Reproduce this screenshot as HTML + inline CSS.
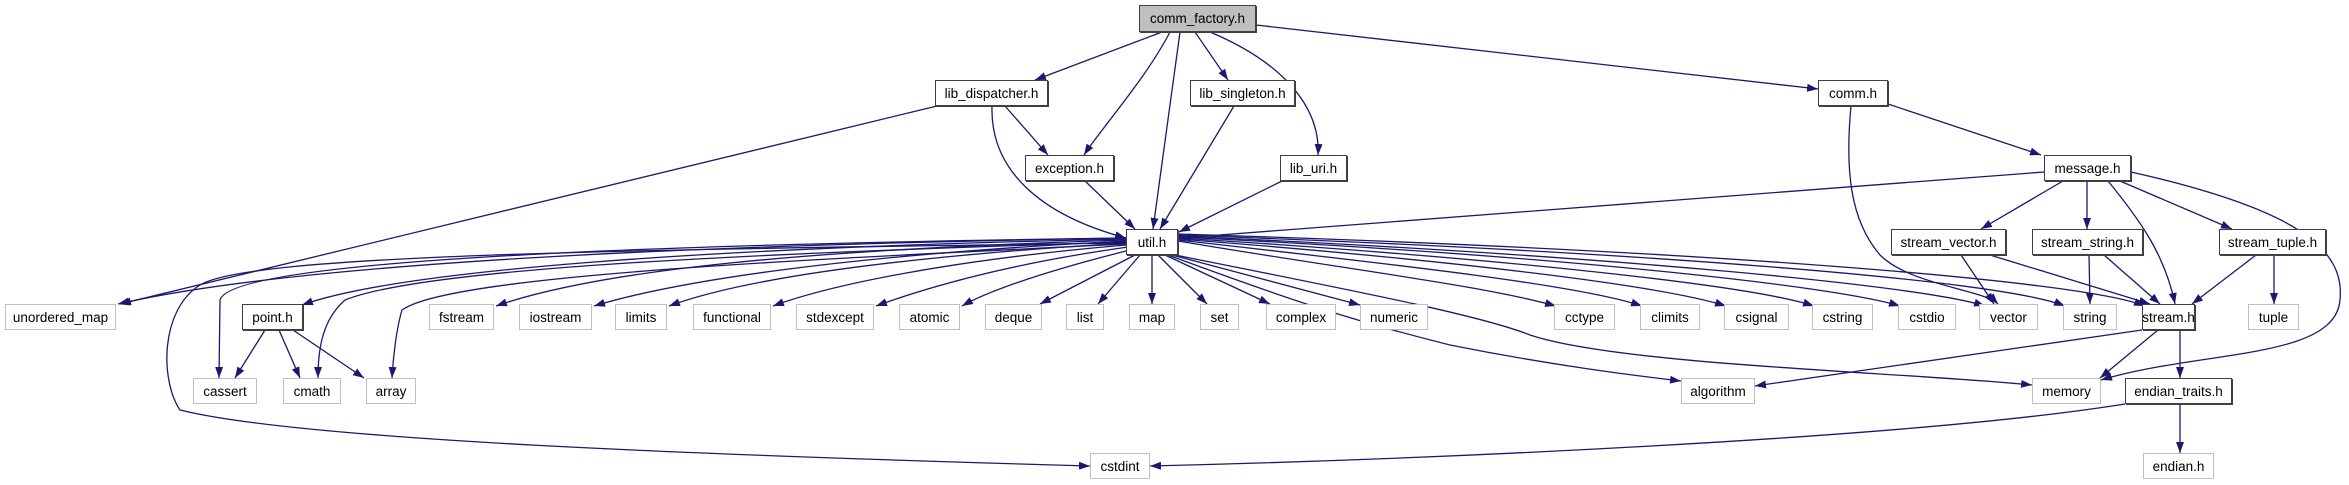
<!DOCTYPE html>
<html><head><meta charset="utf-8"><style>
html,body{margin:0;padding:0;background:#fff;}
#c{position:relative;width:2349px;height:485px;overflow:hidden;}
svg{position:absolute;left:0;top:0;}
.n{position:absolute;box-sizing:border-box;border:1px solid #bfbfbf;background:#fff;font-family:"Liberation Sans",sans-serif;font-size:13.5px;color:#000;display:flex;align-items:center;justify-content:center;white-space:nowrap;}
.b{border:1px solid #404040;box-shadow:1px 1px 0 #404040;}
.g{background:#bfbfbf;}
</style></head><body><div id="c">
<svg width="2349" height="485" viewBox="0 0 2349 485">
<defs><marker id="a" markerWidth="11" markerHeight="8" refX="11" refY="4" orient="auto" markerUnits="userSpaceOnUse"><path d="M0,0 L11,4 L0,8 z" fill="#191970"/></marker></defs>
<g fill="none" stroke="#191970" stroke-width="1.3" marker-end="url(#a)">
<path d="M1162,32 L1035,80"/>
<path d="M1170,32 C1145,80 1100,130 1084,155"/>
<path d="M1180,32 L1153,229"/>
<path d="M1195,32 L1228,80"/>
<path d="M1210,32 C1300,70 1320,120 1318,155"/>
<path d="M1256,25 L1818,89"/>
<path d="M1005,106 L1048,155"/>
<path d="M992,106 C990,170 1040,215 1126,238"/>
<path d="M937,106 L120,304"/>
<path d="M1085,181 L1135,229"/>
<path d="M1234,106 L1160,229"/>
<path d="M1282,181 L1179,232"/>
<path d="M1888,104 L2041,155"/>
<path d="M1851,106 C1845,170 1850,220 1880,255 C1910,285 1985,290 1998,304"/>
<path d="M2044,172 L1180,238"/>
<path d="M2063,181 L1981,229"/>
<path d="M2087,181 L2087,229"/>
<path d="M2108,181 C2140,220 2165,255 2175,304"/>
<path d="M2120,181 L2232,229"/>
<path d="M2131,172 C2300,210 2345,250 2340,300 C2335,360 2200,350 2101,380"/>
<path d="M1961,255 L1994,304"/>
<path d="M1990,255 L2150,304"/>
<path d="M2089,255 L2090,304"/>
<path d="M2104,255 L2160,304"/>
<path d="M2256,255 L2192,304"/>
<path d="M2274,255 L2274,304"/>
<path d="M2142,330 L1755,386"/>
<path d="M2158,330 L2100,378"/>
<path d="M2180,330 L2180,378"/>
<path d="M2180,404 L2180,453"/>
<path d="M2125,404 C1900,440 1400,460 1150,466"/>
<path d="M1126,243 C600,250 250,255 200,285 C160,310 160,380 180,410 C300,440 700,455 1090,466"/>
<path d="M1126,238 C700,245 300,262 118,304"/>
<path d="M1126,239 C700,248 400,270 302,305"/>
<path d="M1126,238 C600,245 230,262 220,300 L219,378"/>
<path d="M1126,242 C700,255 420,270 345,300 C322,320 318,350 318,378"/>
<path d="M1126,244 C800,260 450,275 402,310 C396,330 393,360 392,378"/>
<path d="M1126,240 C800,250 600,270 496,306"/>
<path d="M1126,241 C850,255 680,280 594,306"/>
<path d="M1126,243 C880,258 740,280 669,306"/>
<path d="M1126,245 C950,260 830,285 773,306"/>
<path d="M1128,247 C1000,265 920,290 876,306"/>
<path d="M1130,250 C1050,270 990,290 962,306"/>
<path d="M1135,255 L1040,304"/>
<path d="M1140,255 L1098,304"/>
<path d="M1152,255 L1152,304"/>
<path d="M1158,255 L1207,304"/>
<path d="M1165,255 L1270,304"/>
<path d="M1172,255 L1360,305"/>
<path d="M1178,241 C1350,270 1480,285 1556,306"/>
<path d="M1178,240 C1400,265 1580,285 1642,306"/>
<path d="M1178,239 C1450,260 1660,285 1726,306"/>
<path d="M1178,238 C1500,258 1750,285 1814,306"/>
<path d="M1178,237 C1550,255 1830,285 1900,306"/>
<path d="M1178,236 C1600,255 1920,285 1985,306"/>
<path d="M1178,235 C1650,252 2000,280 2065,306"/>
<path d="M1178,234 C1700,250 2080,280 2145,306"/>
<path d="M1168,255 C1290,300 1350,320 1450,345 C1550,365 1630,375 1681,381"/>
<path d="M1175,255 C1350,290 1480,315 1530,335 C1620,365 1900,372 2032,385"/>
<path d="M265,330 L235,378"/>
<path d="M279,330 L300,378"/>
<path d="M293,330 L364,378"/>
</g>
</svg>
<div class="n b g" style="left:1139px;top:5px;width:117px;height:27px">comm_factory.h</div>
<div class="n b" style="left:935px;top:80px;width:113px;height:26px">lib_dispatcher.h</div>
<div class="n b" style="left:1025px;top:155px;width:89px;height:26px">exception.h</div>
<div class="n b" style="left:1126px;top:229px;width:52px;height:26px">util.h</div>
<div class="n b" style="left:1190px;top:80px;width:105px;height:26px">lib_singleton.h</div>
<div class="n b" style="left:1280px;top:155px;width:67px;height:26px">lib_uri.h</div>
<div class="n b" style="left:1818px;top:80px;width:70px;height:26px">comm.h</div>
<div class="n b" style="left:2044px;top:155px;width:87px;height:26px">message.h</div>
<div class="n b" style="left:1891px;top:229px;width:115px;height:26px">stream_vector.h</div>
<div class="n b" style="left:2032px;top:229px;width:111px;height:26px">stream_string.h</div>
<div class="n b" style="left:2219px;top:229px;width:107px;height:26px">stream_tuple.h</div>
<div class="n" style="left:5px;top:304px;width:111px;height:26px">unordered_map</div>
<div class="n b" style="left:242px;top:304px;width:61px;height:26px">point.h</div>
<div class="n" style="left:429px;top:304px;width:65px;height:26px">fstream</div>
<div class="n" style="left:519px;top:304px;width:73px;height:26px">iostream</div>
<div class="n" style="left:615px;top:304px;width:52px;height:26px">limits</div>
<div class="n" style="left:693px;top:304px;width:78px;height:26px">functional</div>
<div class="n" style="left:796px;top:304px;width:78px;height:26px">stdexcept</div>
<div class="n" style="left:899px;top:304px;width:61px;height:26px">atomic</div>
<div class="n" style="left:985px;top:304px;width:57px;height:26px">deque</div>
<div class="n" style="left:1066px;top:304px;width:38px;height:26px">list</div>
<div class="n" style="left:1129px;top:304px;width:46px;height:26px">map</div>
<div class="n" style="left:1200px;top:304px;width:39px;height:26px">set</div>
<div class="n" style="left:1266px;top:304px;width:70px;height:26px">complex</div>
<div class="n" style="left:1360px;top:304px;width:68px;height:26px">numeric</div>
<div class="n" style="left:1554px;top:304px;width:61px;height:26px">cctype</div>
<div class="n" style="left:1640px;top:304px;width:60px;height:26px">climits</div>
<div class="n" style="left:1724px;top:304px;width:65px;height:26px">csignal</div>
<div class="n" style="left:1812px;top:304px;width:61px;height:26px">cstring</div>
<div class="n" style="left:1898px;top:304px;width:58px;height:26px">cstdio</div>
<div class="n" style="left:1979px;top:304px;width:59px;height:26px">vector</div>
<div class="n" style="left:2063px;top:304px;width:54px;height:26px">string</div>
<div class="n b" style="left:2142px;top:304px;width:53px;height:26px">stream.h</div>
<div class="n" style="left:2248px;top:304px;width:51px;height:26px">tuple</div>
<div class="n" style="left:193px;top:378px;width:64px;height:26px">cassert</div>
<div class="n" style="left:283px;top:378px;width:58px;height:26px">cmath</div>
<div class="n" style="left:366px;top:378px;width:50px;height:26px">array</div>
<div class="n" style="left:1681px;top:378px;width:74px;height:26px">algorithm</div>
<div class="n" style="left:2032px;top:378px;width:69px;height:26px">memory</div>
<div class="n b" style="left:2125px;top:378px;width:107px;height:26px">endian_traits.h</div>
<div class="n" style="left:1090px;top:453px;width:60px;height:26px">cstdint</div>
<div class="n" style="left:2143px;top:453px;width:71px;height:26px">endian.h</div>
</div></body></html>
